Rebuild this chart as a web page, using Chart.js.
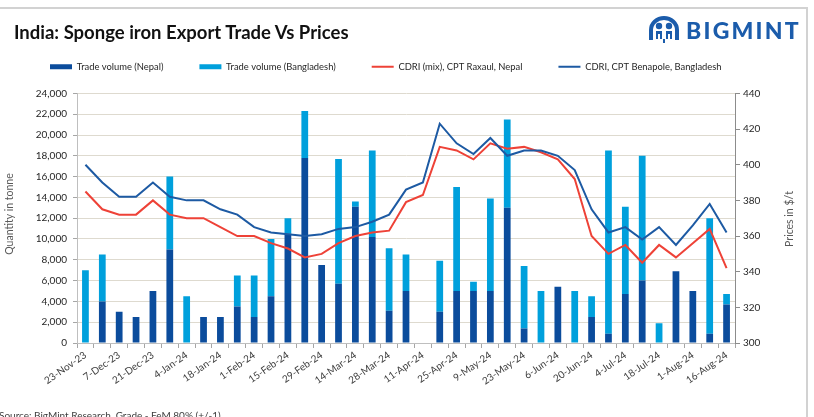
<!DOCTYPE html>
<html>
<head>
<meta charset="utf-8">
<script src="https://cdn.jsdelivr.net/npm/chart.js@4.4.1/dist/chart.umd.min.js"></script>
<style>
  html, body { margin: 0; padding: 0; background: #fff; }
  #wrap { position: relative; width: 814px; height: 417px; overflow: hidden; font-family: Lato, sans-serif; }
  #frame { position: absolute; left: -4px; top: 7px; width: 810px; height: 420px; border-top: 2px solid #d2d2d2; border-right: 2px solid #d2d2d2; }
  #title { position: absolute; left: 14px; top: 21px; font-size: 18.5px; font-weight: bold; color: #111; white-space: nowrap; }
  #logo { position: absolute; left: 648px; top: 15px; height: 30px; display: flex; align-items: center; color: #1b5cab; }
  #logo span { font-weight: 900; font-size: 23px; letter-spacing: 2.2px; margin-left: 6px; }
  #source { position: absolute; left: -1px; top: 409px; font-size: 10px; color: #404040; white-space: nowrap; }
  #box { position: absolute; left: 0; top: 0; width: 814px; height: 417px; }
</style>
</head>
<body>
<div id="wrap">
  <div id="frame"></div>
  <div id="box"><canvas id="chart"></canvas></div>
  <div id="title">India: Sponge iron Export Trade Vs Prices</div>
  <div id="logo">
    <svg width="32" height="28" viewBox="0 0 32 28">
      <path d="M3 24 V14 A13 12 0 0 1 29 14 V24" fill="none" stroke="#1b5cab" stroke-width="4"/>
      <circle cx="11" cy="10" r="3.2" fill="#1b5cab"/>
      <circle cx="21" cy="10" r="3.2" fill="#1b5cab"/>
      <path d="M8 15 h6 v8 h-2 v-5 h-2 v5 h-2z M18 15 h6 v8 h-2 v-5 h-2 v5 h-2z" fill="#1b5cab"/>
      <rect x="15" y="23" width="2" height="4" fill="#1b5cab"/>
    </svg>
    <span>BIGMINT</span>
  </div>
  <div id="source">Source: BigMint Research, Grade - FeM 80% (+/-1)</div>
</div>
<script>
const weeks = ['23-Nov-23','30-Nov-23','7-Dec-23','14-Dec-23','21-Dec-23','28-Dec-23','4-Jan-24','11-Jan-24',
  '18-Jan-24','25-Jan-24','1-Feb-24','8-Feb-24','15-Feb-24','22-Feb-24','29-Feb-24','7-Mar-24','14-Mar-24',
  '21-Mar-24','28-Mar-24','4-Apr-24','11-Apr-24','18-Apr-24','25-Apr-24','2-May-24','9-May-24','16-May-24',
  '23-May-24','30-May-24','6-Jun-24','13-Jun-24','20-Jun-24','27-Jun-24','4-Jul-24','11-Jul-24','18-Jul-24',
  '25-Jul-24','1-Aug-24','8-Aug-24','16-Aug-24'];

// tonnes
const nepalVolume = [0, 4000, 3000, 2500, 5000, 9000, 0, 2500, 2500, 3500, 2500, 4500, 10500, 17800, 7500,
  5700, 13100, 10200, 3100, 5000, 0, 3000, 5000, 5000, 5000, 13000, 1400, 0, 5400, 0, 2500, 900, 4700,
  6000, 0, 6900, 5000, 900, 3700];
const bangladeshVolume = [7000, 4500, 0, 0, 0, 7000, 4500, 0, 0, 3000, 4000, 5500, 1500, 4500, 0,
  12000, 500, 8300, 6000, 3500, 0, 4900, 10000, 900, 8900, 8500, 6000, 5000, 0, 5000, 2000, 17600, 8400,
  12000, 1900, 0, 0, 11100, 1000];

// $/t
const raxaulPrice = [385, 375, 372, 372, 380, 372, 370, 370, 365, 360, 360, 356, 353, 348, 350, 356, 360,
  362, 363, 379, 383, 410, 408, 403, 412, 409, 410, 407, 403, 392, 360, 350, 355, 345, 355, 348, 356,
  364, 342];
const benapolePrice = [400, 390, 382, 382, 390, 382, 380, 380, 375, 372, 365, 362, 361, 360, 361, 364, 365,
  368, 372, 386, 390, 423, 412, 406, 415, 405, 408, 408, 405, 397, 375, 362, 365, 358, 365, 355, 366,
  378, 362];

const qtyTicks = { min: 0, max: 24000, step: 2000 };
const priceTicks = { min: 300, max: 440, step: 20 };

Chart.defaults.font.family = 'Lato, sans-serif';
Chart.defaults.font.size = 10;
Chart.defaults.color = '#333';

// push the plot area down a bit below the legend
const legendGap = {
  id: 'legendGap',
  beforeInit(chart) {
    const fit = chart.legend.fit;
    chart.legend.fit = function () {
      fit.call(this);
      this.height += 12;
    };
  }
};

// both axis titles read bottom-to-top
const axisTitles = {
  id: 'axisTitles',
  afterDraw(chart) {
    const ctx = chart.ctx;
    ctx.save();
    ctx.font = '10.5px Lato, sans-serif';
    ctx.fillStyle = '#595959';
    ctx.textAlign = 'center';
    ctx.textBaseline = 'middle';
    [[10, 214, 'Quantity in tonne'], [790, 219, 'Prices in $/t']].forEach(([x, y, t]) => {
      ctx.save();
      ctx.translate(x, y);
      ctx.rotate(-Math.PI / 2);
      ctx.fillText(t, 0, 0);
      ctx.restore();
    });
    ctx.restore();
  }
};

new Chart(document.getElementById('chart'), {
  data: {
    labels: weeks,
    datasets: [{
      type: 'bar',
      label: 'Trade volume (Nepal)',
      data: nepalVolume,
      backgroundColor: '#0b4c9c',
      barPercentage: 0.4,
      categoryPercentage: 1,
      yAxisID: 'y',
      order: 2
    }, {
      type: 'bar',
      label: 'Trade volume (Bangladesh)',
      data: bangladeshVolume,
      backgroundColor: '#00a0dc',
      barPercentage: 0.4,
      categoryPercentage: 1,
      yAxisID: 'y',
      order: 2
    }, {
      type: 'line',
      label: 'CDRI (mix), CPT Raxaul, Nepal',
      data: raxaulPrice,
      borderColor: '#ee4237',
      backgroundColor: '#ee4237',
      borderWidth: 2,
      pointRadius: 0,
      tension: 0,
      yAxisID: 'y1',
      order: 1
    }, {
      type: 'line',
      label: 'CDRI, CPT Benapole, Bangladesh',
      data: benapolePrice,
      borderColor: '#1d5aa3',
      backgroundColor: '#1d5aa3',
      borderWidth: 2,
      pointRadius: 0,
      tension: 0,
      yAxisID: 'y1',
      order: 0
    }]
  },
  options: {
    responsive: true,
    maintainAspectRatio: false,
    animation: false,
    layout: { padding: { top: 26, left: 14, right: 0, bottom: 0 } },
    plugins: {
      tooltip: { enabled: false },
      legend: {
        position: 'top',
        align: 'start',
        labels: {
          usePointStyle: true,
          pointStyleWidth: 22,
          boxHeight: 5,
          padding: 36,
          color: '#262626',
          font: { size: 9.4 },
          sort: (a, b) => a.datasetIndex - b.datasetIndex,
          generateLabels(chart) {
            const items = Chart.defaults.plugins.legend.labels.generateLabels(chart);
            items.forEach((it) => {
              const ds = chart.data.datasets[it.datasetIndex];
              if (ds.type === 'line') {
                it.pointStyle = 'line';
                it.strokeStyle = ds.borderColor;
                it.lineWidth = 2;
              } else {
                it.pointStyle = 'rect';
                it.fillStyle = ds.backgroundColor;
                it.lineWidth = 0;
              }
            });
            return items;
          }
        }
      }
    },
    scales: {
      x: {
        stacked: true,
        offset: true,
        afterFit(s) { s.height = 74; },
        border: { color: '#bfbfbf' },
        grid: { offset: true, drawOnChartArea: false, tickLength: 5, tickColor: '#a6a6a6' },
        ticks: {
          autoSkip: false,
          minRotation: 35,
          maxRotation: 35,
          padding: 1,
          color: '#404040',
          font: { size: 10 },
          callback: (v, i) => (i % 2 === 0 ? weeks[i] : '')
        }
      },
      y: {
        position: 'left',
        stacked: true,
        min: qtyTicks.min,
        max: qtyTicks.max,
        afterFit(s) { s.width = 63; },
        border: { color: '#bfbfbf' },
        grid: { color: '#dedacf', tickLength: 4, tickColor: '#a6a6a6' },
        ticks: { stepSize: qtyTicks.step, padding: 6, color: '#262626', font: { size: 10 } }
      },
      y1: {
        position: 'right',
        min: priceTicks.min,
        max: priceTicks.max,
        afterFit(s) { s.width = 79; },
        border: { color: '#8c8c8c' },
        grid: { drawOnChartArea: false, tickLength: 5, tickColor: '#8c8c8c' },
        ticks: { stepSize: priceTicks.step, padding: 3, color: '#262626', font: { size: 10 } }
      }
    }
  },
  plugins: [legendGap, axisTitles]
});
</script>
</body>
</html>
